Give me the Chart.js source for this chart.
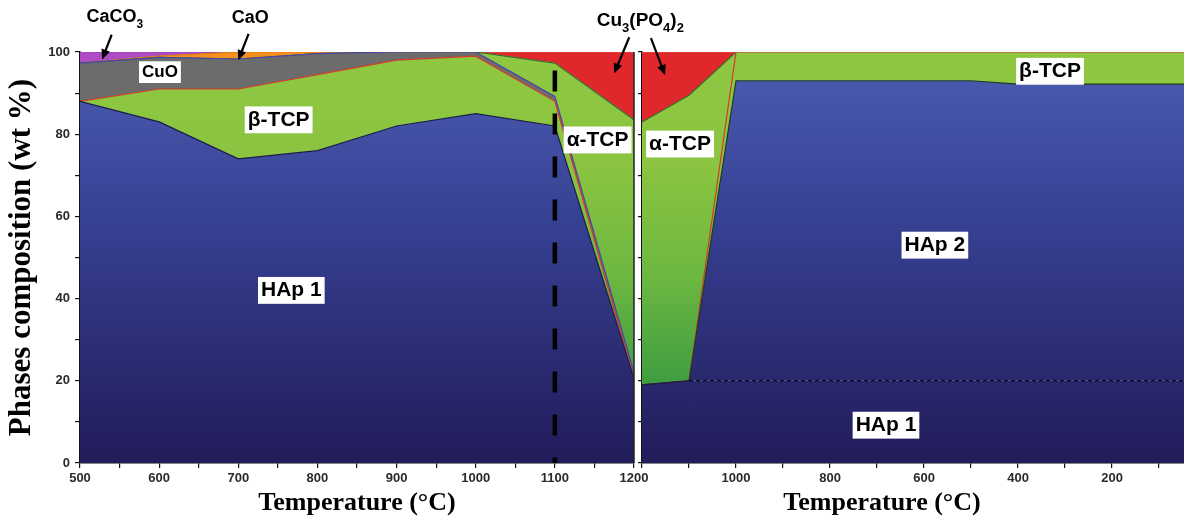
<!DOCTYPE html>
<html>
<head>
<meta charset="utf-8">
<script src="https://cdn.jsdelivr.net/npm/chart.js@4.4.1/dist/chart.umd.min.js"></script>
<style>
  html, body { margin: 0; padding: 0; background: #fff; }
  #wrap { position: relative; width: 1184px; height: 521px; overflow: hidden; }
  #wrap canvas { position: absolute; left: 0; top: 0; }
</style>
</head>
<body>
<div id="wrap">
  <canvas id="heating" width="1184" height="521"></canvas>
  <canvas id="cooling" width="1184" height="521"></canvas>
</div>
<script>
// ---- Heating run, 500 -> 1200 °C : phase amounts (wt %) ----
const heatTemps    = [500, 600, 700, 800, 900, 1000, 1100, 1200];
const heatHAp1     = [88, 83, 74, 76, 82, 85, 82, 20.5];
const heatBetaTCP  = [0, 8, 17, 18.5, 16, 14, 6, 0];
const heatCuO      = [9.3, 7.7, 7.3, 5.1, 2, 1, 1.2, 1.5];
const heatAlphaTCP = [0, 0, 0, 0, 0, 0, 8.1, 61.5];
const heatCaO      = [0, 0.3, 1.7, 0.4, 0, 0, 0, 0];
const heatCaCO3    = [2.7, 1.0, 0, 0, 0, 0, 0, 0];
const heatCuPhos   = [0, 0, 0, 0, 0, 0, 2.7, 16.5];

// ---- Cooling run, 1200 °C -> room temperature ----
const coolTemps    = [1200, 1100, 1000, 500, 400, 25];
const coolHAp1     = [19, 20, 20, 20, 20, 20];
const coolHAp2     = [0, 0, 73, 73, 72.2, 72.2];
const coolBetaTCP  = [0, 0, 7, 7, 7.8, 7.8];
const coolAlphaTCP = [64, 69.5, 0, 0, 0, 0];
const coolCuPhos   = [17, 10.5, 0, 0, 0, 0];

// Guide lines
const heatGuideT = [1100, 1100];   // dashed marker at 1100 °C
const heatGuideW = [95.5, 0];
const coolGuideT = [1100, 25];     // HAp 1 / HAp 2 split
const coolGuideW = [20, 20];

// Axis ticks
const yTicks = [0, 20, 40, 60, 80, 100];
const heatTickLabels = [500, 600, 700, 800, 900, 1000, 1100, 1200];
const coolTickLabels = [1000, 800, 600, 400, 200];

const SANS = '"Liberation Sans", Arial, sans-serif';
const SERIF = '"Liberation Serif", "Times New Roman", serif';

const pts = (xs, ys) => xs.map((x, i) => ({ x, y: ys[i] }));

function vGrad(stops) {
  return (c) => {
    const chart = c.chart, a = chart.chartArea;
    if (!a) return stops[0][1];
    const g = chart.ctx.createLinearGradient(0, a.top, 0, a.bottom);
    stops.forEach(([o, col]) => g.addColorStop(o, col));
    return g;
  };
}
const BLUE = vGrad([[0, '#4b5db4'], [0.45, '#353e8f'], [1, '#221c5a']]);
const GREEN = vGrad([[0, '#8fc741'], [0.28, '#8ac440'], [0.55, '#6cb741'], [0.82, '#3d9c40'], [1, '#2e9340']]);
const RED = '#df272c';
const GREY = '#6c6c6c';
const ORANGE = '#f5901f';
const MAGENTA = '#ad4cc4';

function area(label, xs, ys, bg, border, fill, extra) {
  return Object.assign({
    label, data: pts(xs, ys), backgroundColor: bg, borderColor: border,
    borderWidth: 1.2, fill, pointRadius: 0, tension: 0, stack: 'phases'
  }, extra || {});
}
function guide(xs, ys, color, width, dash) {
  return {
    label: 'guide', data: pts(xs, ys), borderColor: color, borderWidth: width,
    borderDash: dash, fill: false, pointRadius: 0, stack: 'guide', borderCapStyle: 'butt'
  };
}

// ---- rich text with subscripts and labelled boxes ----
function partFont(p, size) {
  return `bold ${p.sub ? Math.round(size * 0.66) : size}px ${SANS}`;
}
function richWidth(ctx, parts, size) {
  let w = 0;
  for (const p of parts) { ctx.font = partFont(p, size); w += ctx.measureText(p.s).width; }
  return w;
}
function drawRich(ctx, parts, size, cx, cy) {
  let x = cx - richWidth(ctx, parts, size) / 2;
  ctx.textAlign = 'left';
  ctx.textBaseline = 'middle';
  for (const p of parts) {
    ctx.font = partFont(p, size);
    ctx.fillText(p.s, x, cy + (p.sub ? size * 0.4 : 0));
    x += ctx.measureText(p.s).width;
  }
}
function drawArrow(ctx, x1, y1, x2, y2) {
  const ang = Math.atan2(y2 - y1, x2 - x1), L = 10, H = 4.5;
  ctx.strokeStyle = '#000'; ctx.fillStyle = '#000'; ctx.lineWidth = 2.2;
  ctx.beginPath(); ctx.moveTo(x1, y1);
  ctx.lineTo(x2 - Math.cos(ang) * L * 0.8, y2 - Math.sin(ang) * L * 0.8); ctx.stroke();
  ctx.beginPath();
  ctx.moveTo(x2, y2);
  ctx.lineTo(x2 - Math.cos(ang) * L - Math.sin(ang) * H, y2 - Math.sin(ang) * L + Math.cos(ang) * H);
  ctx.lineTo(x2 - Math.cos(ang) * L + Math.sin(ang) * H, y2 - Math.sin(ang) * L - Math.cos(ang) * H);
  ctx.closePath(); ctx.fill();
}

const tickFont = { family: SANS, weight: 'bold', size: 13 };
const titleFont = { family: SERIF, weight: 'bold', size: 26 };

const notesPlugin = {
  id: 'notes',
  afterDatasetsDraw(chart, args, opts) {
    const { ctx } = chart, xs = chart.scales.x, ys = chart.scales.y;
    ctx.save();
    for (const n of opts.items || []) {
      const cx = xs.getPixelForValue(n.t), cy = ys.getPixelForValue(n.w);
      if (n.box) {
        const w = richWidth(ctx, n.parts, n.size);
        ctx.fillStyle = '#fff';
        ctx.fillRect(cx - w / 2 - 3, cy - n.size * 0.64, w + 6, n.size * 1.28);
      }
      ctx.fillStyle = '#000';
      drawRich(ctx, n.parts, n.size, cx, cy);
    }
    for (const a of opts.arrows || []) {
      drawArrow(ctx, xs.getPixelForValue(a.from[0]), ys.getPixelForValue(a.from[1]),
                     xs.getPixelForValue(a.to[0]), ys.getPixelForValue(a.to[1]));
    }
    if (opts.rightEdge) {
      const a = chart.chartArea;
      ctx.strokeStyle = '#222'; ctx.lineWidth = 1.5;
      ctx.beginPath(); ctx.moveTo(a.right, a.top); ctx.lineTo(a.right, a.bottom); ctx.stroke();
    }
    if (opts.axisTitle) {
      // axis caption placed under the visible part of the cooling scale
      ctx.fillStyle = '#000';
      ctx.font = `bold ${titleFont.size}px ${SERIF}`;
      ctx.textAlign = 'center';
      ctx.textBaseline = 'middle';
      ctx.fillText(opts.axisTitle.text, opts.axisTitle.x, opts.axisTitle.y);
    }
    ctx.restore();
  }
};

function xAxis(min, max, labels, reverse, showTitle) {
  return {
    type: 'linear', min, max, reverse,
    ticks: {
      stepSize: 50, autoSkip: false, maxRotation: 0, includeBounds: false,
      font: tickFont, color: '#2a2a2a', padding: 3,
      callback: v => labels.includes(v) ? String(v) : ''
    },
    afterBuildTicks: s => { s.ticks = s.ticks.filter(t => t.value % 50 === 0 && (reverse ? t.value % 100 === 0 : true)); },
    grid: { drawOnChartArea: false, tickLength: 5, color: '#111', lineWidth: 1.2 },
    border: { color: '#111', width: 1.5 },
    title: { display: showTitle, text: 'Temperature (°C)', font: titleFont, color: '#000', padding: { top: 0, bottom: 2 } },
    afterFit: s => { s.height = 58; }
  };
}

// ---- heating panel ----
const topLineHeat = { borderColor: c => (c.p0.parsed.y === 0 && c.p1.parsed.y === 0) ? '#f3a13c' : '#e2555a' };
new Chart(document.getElementById('heating'), {
  type: 'line',
  data: {
    datasets: [
      guide(heatGuideT, heatGuideW, '#000', 4.5, [21, 22]),
      area('HAp 1', heatTemps, heatHAp1, BLUE, '#1c1c4a', 'origin'),
      area('β-TCP', heatTemps, heatBetaTCP, GREEN, '#d23a2a', '-1'),
      area('CuO', heatTemps, heatCuO, GREY, '#4646a8', '-1'),
      area('α-TCP', heatTemps, heatAlphaTCP, GREEN, '#3b6b2b', '-1'),
      area('CaO', heatTemps, heatCaO, ORANGE, '#e07b10', '-1'),
      area('CaCO3', heatTemps, heatCaCO3, MAGENTA, '#9b3fb0', '-1'),
      area('Cu3(PO4)2', heatTemps, heatCuPhos, RED, '#e2555a', '-1', { segment: topLineHeat })
    ]
  },
  options: {
    responsive: false, animation: false, events: [],
    layout: { padding: { left: 0, top: 52, right: 550, bottom: 0 } },
    plugins: {
      legend: { display: false }, tooltip: { enabled: false },
      notes: {
        rightEdge: true,
        items: [
          { parts: [{ s: 'CuO' }], t: 601, w: 95.1, size: 17, box: true },
          { parts: [{ s: 'β-TCP' }], t: 751, w: 83.5, size: 21, box: true },
          { parts: [{ s: 'HAp 1' }], t: 767, w: 42, size: 21, box: true },
          { parts: [{ s: 'α-TCP' }], t: 1154, w: 78.6, size: 21, box: true },
          { parts: [{ s: 'CaCO' }, { s: '3', sub: true }], t: 544, w: 108.5, size: 18 },
          { parts: [{ s: 'CaO' }], t: 715, w: 108.2, size: 18 },
          { parts: [{ s: 'Cu' }, { s: '3', sub: true }, { s: '(PO' }, { s: '4', sub: true }, { s: ')' }, { s: '2', sub: true }], t: 1208, w: 107.6, size: 19 }
        ],
        arrows: [
          { from: [540, 104.2], to: [528, 98.2] },
          { from: [713, 104.4], to: [700, 98.0] },
          { from: [1194, 103.6], to: [1175, 94.8] }
        ]
      }
    },
    scales: {
      x: xAxis(500, 1200, heatTickLabels, false, true),
      y: {
        stacked: true, min: 0, max: 100,
        ticks: { stepSize: 10, font: tickFont, color: '#2a2a2a', padding: 5,
                 callback: v => yTicks.includes(v) ? String(v) : '' },
        grid: { drawOnChartArea: false, tickLength: 5, color: '#111', lineWidth: 1.2 },
        border: { color: '#111', width: 1.5 },
        title: { display: true, text: 'Phases composition (wt %)', font: { family: SERIF, weight: 'bold', size: 31 },
                 color: '#000', padding: { top: 3, bottom: 0 } },
        afterFit: s => { s.width = 80; }
      }
    }
  },
  plugins: [notesPlugin]
});

// ---- cooling panel ----
const topLineCool = { borderColor: c => (c.p0.parsed.y === 0 && c.p1.parsed.y === 0) ? '#b9b96e' : '#e2555a' };
const hap1Edge = { borderColor: c => c.p0.parsed.x > 1100 ? '#1c1c4a' : 'rgba(0,0,0,0)' };
new Chart(document.getElementById('cooling'), {
  type: 'line',
  data: {
    datasets: [
      guide(coolGuideT, coolGuideW, '#0c0c24', 1.6, [4, 3]),
      area('HAp 1', coolTemps, coolHAp1, BLUE, '#1c1c4a', 'origin', { segment: hap1Edge }),
      area('HAp 2', coolTemps, coolHAp2, BLUE, '#1d3a1d', '-1'),
      area('β-TCP', coolTemps, coolBetaTCP, GREEN, '#d23a2a', '-1'),
      area('α-TCP', coolTemps, coolAlphaTCP, GREEN, '#3b6b2b', '-1'),
      area('Cu3(PO4)2', coolTemps, coolCuPhos, RED, '#e2555a', '-1', { segment: topLineCool })
    ]
  },
  options: {
    responsive: false, animation: false, events: [],
    layout: { padding: { left: 636, top: 52, right: 0, bottom: 0 } },
    plugins: {
      legend: { display: false }, tooltip: { enabled: false },
      notes: {
        axisTitle: { text: 'Temperature (°C)', x: 882, y: 503 },
        items: [
          { parts: [{ s: 'α-TCP' }], t: 1119, w: 77.6, size: 21, box: true },
          { parts: [{ s: 'HAp 2' }], t: 577, w: 53, size: 21, box: true },
          { parts: [{ s: 'HAp 1' }], t: 681, w: 9.2, size: 21, box: true },
          { parts: [{ s: 'β-TCP' }], t: 332, w: 95.3, size: 21, box: true }
        ],
        arrows: [
          { from: [1181, 103.4], to: [1151, 94.4] }
        ]
      }
    },
    scales: {
      x: xAxis(47, 1200, coolTickLabels, true, false),
      y: {
        stacked: true, min: 0, max: 100,
        ticks: { stepSize: 10, callback: () => '' },
        grid: { drawOnChartArea: false, tickLength: 4, color: '#111', lineWidth: 1.2 },
        border: { color: '#111', width: 1.5 },
        afterFit: s => { s.width = 6; }
      }
    }
  },
  plugins: [notesPlugin]
});
</script>
</body>
</html>
